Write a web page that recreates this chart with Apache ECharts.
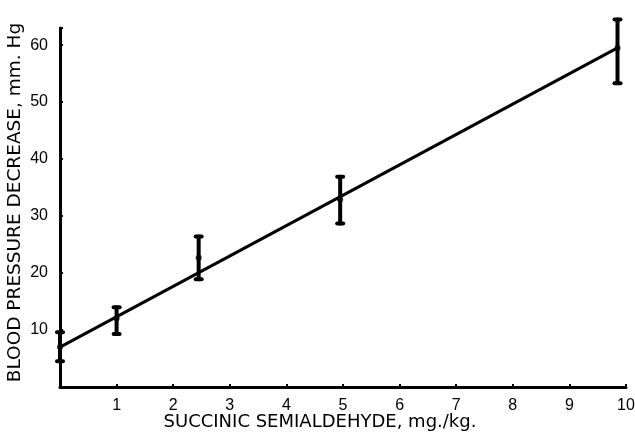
<!DOCTYPE html>
<html>
<head>
<meta charset="utf-8">
<script src="https://cdn.jsdelivr.net/npm/echarts@6/dist/echarts.min.js"></script>
<style>
  html, body { margin: 0; padding: 0; background: #fff; }
  #main { width: 635px; height: 434px; }
</style>
</head>
<body>
<div id="main"></div>
<script>
// dose of succinic semialdehyde (mg/kg) and blood pressure drop (mm Hg)
const doses = [0, 1, 2.45, 4.95, 9.85];
const means = [7, 12, 22.7, 32.9, 59.5];
const upper = [9.6, 14, 26.4, 36.9, 64.5];
const lower = [4.5, 9.3, 18.9, 28.7, 53.3];
// fitted straight line ends
const fitX = [0, 9.85];
const fitY = [7, 59.5];

const myChart = echarts.init(document.querySelector('#main'));
const font = 'Liberation Sans';
const nameFont = 'DejaVu Sans';

const barData = doses.map((d, i) => [d, lower[i], upper[i]]);

const option = {
  animation: false,
  backgroundColor: '#fff',
  grid: { left: 60, right: 9, top: 28, bottom: 47, containLabel: false, outerBoundsMode: 'none' },
  xAxis: {
    type: 'value',
    min: 0,
    max: 10,
    interval: 1,
    name: 'SUCCINIC SEMIALDEHYDE, mg./kg.',
    nameLocation: 'middle',
    nameGap: 26,
    nameMoveOverlap: false,
    nameTextStyle: { fontFamily: nameFont, fontSize: 18, color: '#000', padding: [0, 46, 0, 0] },
    axisLine: { lineStyle: { color: '#000', width: 3 } },
    axisTick: { inside: true, length: 3, lineStyle: { color: '#000', width: 2 } },
    axisLabel: {
      fontFamily: font, fontSize: 16, color: '#000', margin: 11,
      formatter: v => (v === 0 ? '' : v)
    },
    splitLine: { show: false }
  },
  yAxis: {
    type: 'value',
    min: 0,
    max: 63,
    interval: 10,
    name: 'BLOOD PRESSURE DECREASE, mm. Hg',
    nameLocation: 'middle',
    nameGap: 35,
    nameMoveOverlap: false,
    nameRotate: 90,
    nameTextStyle: { fontFamily: nameFont, fontSize: 18.5, color: '#000', padding: [0, 0, 0, 10] },
    axisLine: { show: true, lineStyle: { color: '#000', width: 3 } },
    axisTick: { show: true, inside: true, length: 3, lineStyle: { color: '#000', width: 2 } },
    axisLabel: {
      fontFamily: font, fontSize: 16, color: '#000', margin: 12,
      formatter: v => (v === 0 || v % 10 !== 0 ? '' : v)
    },
    splitLine: { show: false }
  },
  series: [
    {
      type: 'line',
      data: fitX.map((x, i) => [x, fitY[i]]),
      symbol: 'none',
      lineStyle: { color: '#000', width: 3 },
      z: 3
    },
    {
      type: 'custom',
      data: barData,
      renderItem: (params, api) => {
        const x = api.value(0);
        const top = api.coord([x, api.value(2)]);
        const bot = api.coord([x, api.value(1)]);
        const style = { stroke: '#000', lineWidth: 4, lineCap: 'round' };
        return {
          type: 'group',
          children: [
            { type: 'line', shape: { x1: top[0], y1: top[1], x2: bot[0], y2: bot[1] }, style },
            { type: 'line', shape: { x1: top[0] - 3, y1: top[1], x2: top[0] + 3, y2: top[1] }, style },
            { type: 'line', shape: { x1: bot[0] - 3, y1: bot[1], x2: bot[0] + 3, y2: bot[1] }, style }
          ]
        };
      },
      z: 4
    },
    {
      type: 'scatter',
      data: doses.map((d, i) => [d, means[i]]),
      symbolSize: 6,
      itemStyle: { color: '#000' },
      z: 5
    }
  ]
};

myChart.setOption(option);
</script>
</body>
</html>
